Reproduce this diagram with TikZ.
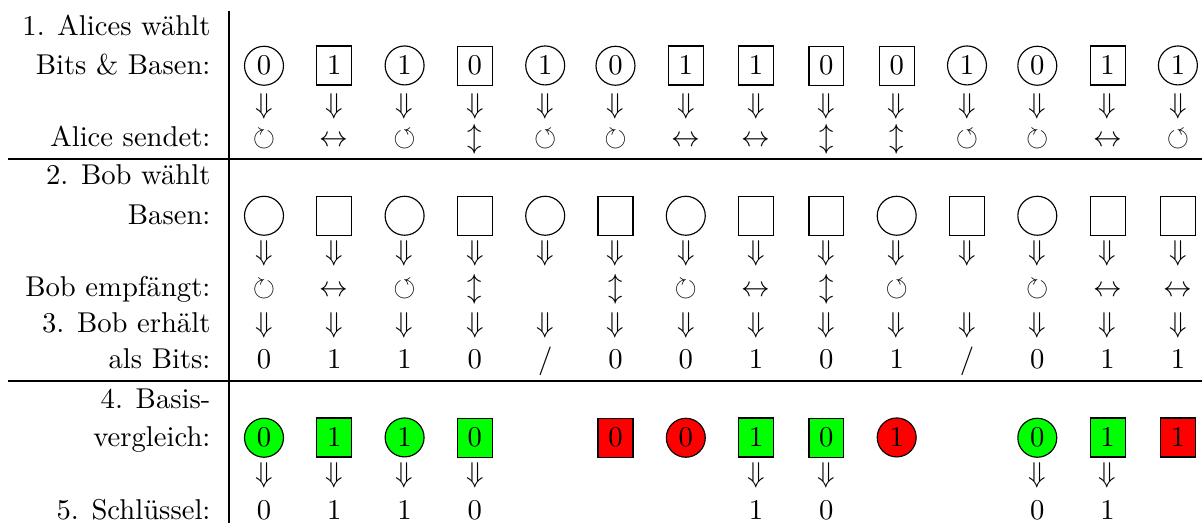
\documentclass[tikz,border=0pt]{standalone}
\usepackage{amssymb}
\newcommand\symR{$\circlearrowright$}
\newcommand\symL{$\circlearrowleft$}
\newcommand\symH{$\leftrightarrow$}
\newcommand\symV{$\updownarrow$}
\newcommand\dn{$\Downarrow$}
\begin{document}
\begin{tikzpicture}[x=0.349pt,y=-0.349pt,
  lbl/.style={anchor=base east, inner sep=0pt},
  sym/.style={anchor=base, inner sep=0pt},
  basis/.style={draw, line width=0.4pt, inner sep=0pt, minimum height=13.6pt, anchor=base},
]
\useasboundingbox (0,0) rectangle (1202,523);
% frame lines
\coordinate (h1a) at (8,159); \coordinate (h1b) at (1202,159);
\coordinate (h2a) at (8,381); \coordinate (h2b) at (1202,381);
\coordinate (va) at (229,11); \coordinate (vb) at (229,523);
\draw (h1a) -- (h1b);
\draw (h2a) -- (h2b);
\draw (va) -- (vb);
% labels
\node[lbl] (l1) at (211,36) {1. Alices wählt};
\node[lbl] (l2) at (211,75) {Bits \& Basen:};
\node[lbl] (l3) at (211,147) {Alice sendet:};
\node[lbl] (l4) at (211,185) {2. Bob wählt};
\node[lbl] (l5) at (211,225) {Basen:};
\node[lbl] (l6) at (211,297) {Bob empfängt:};
\node[lbl] (l7) at (211,333) {3. Bob erhält};
\node[lbl] (l8) at (211,369) {als Bits:};
\node[lbl] (l9) at (211,409) {4. Basis-};
\node[lbl] (l10) at (211,447) {vergleich:};
\node[lbl] (l11) at (211,520) {5. Schlüssel:};
% Alice bits and bases
\foreach \i/\b/\shp/\mw in {1/0/circle/13.6pt,2/1/rectangle/12.2pt,3/1/circle/13.6pt,4/0/rectangle/12.2pt,5/1/circle/13.6pt,6/0/circle/13.6pt,7/1/rectangle/12.2pt,8/1/rectangle/12.2pt,9/0/rectangle/12.2pt,10/0/rectangle/12.2pt,11/1/circle/13.6pt,12/0/circle/13.6pt,13/1/rectangle/12.2pt,14/1/circle/13.6pt}
  \node[basis, shape=\shp, minimum width=\mw] (a\i) at ({264+(\i-1)*70.3},75) {\b};
\foreach \i in {1,...,14}
  \node[sym] (da\i) at ({264+(\i-1)*70.3},114) {\dn};
% Alice sends
\foreach \i/\t in {1/\symR,2/\symH,3/\symL,4/\symV,5/\symL,6/\symR,7/\symH,8/\symH,9/\symV,10/\symV,11/\symL,12/\symR,13/\symH,14/\symL}
  \node[sym] (s\i) at ({264+(\i-1)*70.3},147) {\t};
% Bob bases
\foreach \i/\shp/\mw in {1/circle/13.6pt,2/rectangle/12.2pt,3/circle/13.6pt,4/rectangle/12.2pt,5/circle/13.6pt,6/rectangle/12.2pt,7/circle/13.6pt,8/rectangle/12.2pt,9/rectangle/12.2pt,10/circle/13.6pt,11/rectangle/12.2pt,12/circle/13.6pt,13/rectangle/12.2pt,14/rectangle/12.2pt}
  \node[basis, shape=\shp, minimum width=\mw] (b\i) at ({264+(\i-1)*70.3},225) {\phantom{0}};
\foreach \i in {1,...,14}
  \node[sym] (db\i) at ({264+(\i-1)*70.3},261) {\dn};
% Bob receives
\foreach \i/\t in {1/\symR,2/\symH,3/\symL,4/\symV,6/\symV,7/\symR,8/\symH,9/\symV,10/\symL,12/\symR,13/\symH,14/\symH}
  \node[sym] (r\i) at ({264+(\i-1)*70.3},297) {\t};
\foreach \i in {1,...,14}
  \node[sym] (dr\i) at ({264+(\i-1)*70.3},333) {\dn};
% Bob bits
\foreach \i/\t in {1/0,2/1,3/1,4/0,5/{/},6/0,7/0,8/1,9/0,10/1,11/{/},12/0,13/1,14/1}
  \node[sym] (bb\i) at ({264+(\i-1)*70.3},369) {\t};
% comparison
\foreach \i/\b/\shp/\mw/\fc in {1/0/circle/13.6pt/green,2/1/rectangle/12.2pt/green,3/1/circle/13.6pt/green,4/0/rectangle/12.2pt/green,6/0/rectangle/12.2pt/red,7/0/circle/13.6pt/red,8/1/rectangle/12.2pt/green,9/0/rectangle/12.2pt/green,10/1/circle/13.6pt/red,12/0/circle/13.6pt/green,13/1/rectangle/12.2pt/green,14/1/rectangle/12.2pt/red}
  \node[basis, shape=\shp, minimum width=\mw, fill=\fc] (c\i) at ({264+(\i-1)*70.3},447) {\b};
% key
\foreach \i/\b in {1/0,2/1,3/1,4/0,8/1,9/0,12/0,13/1}{
  \node[sym] (dk\i) at ({264+(\i-1)*70.3},483) {\dn};
  \node[sym] (k\i) at ({264+(\i-1)*70.3},520) {\b};
}
\end{tikzpicture}
\end{document}
